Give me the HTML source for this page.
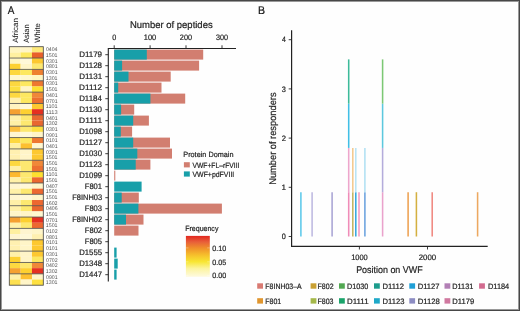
<!DOCTYPE html>
<html><head><meta charset="utf-8"><style>
html,body{margin:0;padding:0;background:#fff;}
body{width:520px;height:311px;overflow:hidden;}
svg{display:block;}
svg{will-change:transform;}
text{stroke:#222;stroke-width:0.2px;}
text.sm{stroke:none;}
text.thin{stroke-width:0.06px;}
text{text-rendering:geometricPrecision;}
</style></head><body>
<svg width="520" height="311" viewBox="0 0 520 311" font-family='"Liberation Sans", sans-serif'>
<rect x="0" y="0" width="520" height="311" fill="#fefefe"/>
<rect x="0.5" y="0.5" width="519" height="310" fill="none" stroke="#474747" stroke-width="1"/>
<rect x="1.5" y="1.5" width="517" height="308" fill="none" stroke="#999" stroke-width="1"/>
<text x="7.78" y="14.10" font-size="11.2" textLength="6.64" lengthAdjust="spacingAndGlyphs" fill="#111">A</text>
<text x="258.04" y="14.10" font-size="11" textLength="7.02" lengthAdjust="spacingAndGlyphs" fill="#111">B</text>
<text class="thin" transform="translate(18.20,42.82) rotate(-90)" x="0" y="0" font-size="7.7" textLength="24.63" lengthAdjust="spacingAndGlyphs" fill="#222">African</text>
<text class="thin" transform="translate(28.50,42.81) rotate(-90)" x="0" y="0" font-size="7.7" textLength="18.29" lengthAdjust="spacingAndGlyphs" fill="#222">Asian</text>
<text class="thin" transform="translate(39.90,42.84) rotate(-90)" x="0" y="0" font-size="7.7" textLength="19.68" lengthAdjust="spacingAndGlyphs" fill="#222">White</text>
<rect x="9.30" y="46.70" width="11.38" height="5.73" fill="#fff5c0"/>
<rect x="20.63" y="46.70" width="11.38" height="5.73" fill="#fff5c8"/>
<rect x="31.97" y="46.70" width="11.38" height="5.73" fill="#fde878"/>
<rect x="9.30" y="52.38" width="11.38" height="5.73" fill="#fff0a0"/>
<rect x="20.63" y="52.38" width="11.38" height="5.73" fill="#fde860"/>
<rect x="31.97" y="52.38" width="11.38" height="5.73" fill="#e8602a"/>
<rect x="9.30" y="58.06" width="11.38" height="5.73" fill="#fff5c0"/>
<rect x="20.63" y="58.06" width="11.38" height="5.73" fill="#fff8d8"/>
<rect x="31.97" y="58.06" width="11.38" height="5.73" fill="#fdc830"/>
<rect x="9.30" y="63.74" width="11.38" height="5.73" fill="#fdd030"/>
<rect x="20.63" y="63.74" width="11.38" height="5.73" fill="#fff5c8"/>
<rect x="31.97" y="63.74" width="11.38" height="5.73" fill="#fde870"/>
<rect x="9.30" y="69.41" width="11.38" height="5.73" fill="#fdd840"/>
<rect x="20.63" y="69.41" width="11.38" height="5.73" fill="#fde860"/>
<rect x="31.97" y="69.41" width="11.38" height="5.73" fill="#ee8030"/>
<rect x="9.30" y="75.09" width="11.38" height="5.73" fill="#fff8d0"/>
<rect x="20.63" y="75.09" width="11.38" height="5.73" fill="#fff8d0"/>
<rect x="31.97" y="75.09" width="11.38" height="5.73" fill="#fff5c0"/>
<rect x="9.30" y="80.77" width="11.38" height="5.73" fill="#fdd840"/>
<rect x="20.63" y="80.77" width="11.38" height="5.73" fill="#fde860"/>
<rect x="31.97" y="80.77" width="11.38" height="5.73" fill="#ee7830"/>
<rect x="9.30" y="86.45" width="11.38" height="5.73" fill="#fde040"/>
<rect x="20.63" y="86.45" width="11.38" height="5.73" fill="#fff5c8"/>
<rect x="31.97" y="86.45" width="11.38" height="5.73" fill="#fde030"/>
<rect x="9.30" y="92.13" width="11.38" height="5.73" fill="#fdd840"/>
<rect x="20.63" y="92.13" width="11.38" height="5.73" fill="#fde860"/>
<rect x="31.97" y="92.13" width="11.38" height="5.73" fill="#f08838"/>
<rect x="9.30" y="97.81" width="11.38" height="5.73" fill="#fff0b0"/>
<rect x="20.63" y="97.81" width="11.38" height="5.73" fill="#fde860"/>
<rect x="31.97" y="97.81" width="11.38" height="5.73" fill="#ec7030"/>
<rect x="9.30" y="103.49" width="11.38" height="5.73" fill="#fff3c0"/>
<rect x="20.63" y="103.49" width="11.38" height="5.73" fill="#fff8d8"/>
<rect x="31.97" y="103.49" width="11.38" height="5.73" fill="#fdc830"/>
<rect x="9.30" y="109.16" width="11.38" height="5.73" fill="#f5a030"/>
<rect x="20.63" y="109.16" width="11.38" height="5.73" fill="#fdd030"/>
<rect x="31.97" y="109.16" width="11.38" height="5.73" fill="#e53020"/>
<rect x="9.30" y="114.84" width="11.38" height="5.73" fill="#fff0a8"/>
<rect x="20.63" y="114.84" width="11.38" height="5.73" fill="#fde870"/>
<rect x="31.97" y="114.84" width="11.38" height="5.73" fill="#e86830"/>
<rect x="9.30" y="120.52" width="11.38" height="5.73" fill="#fff0a8"/>
<rect x="20.63" y="120.52" width="11.38" height="5.73" fill="#fde870"/>
<rect x="31.97" y="120.52" width="11.38" height="5.73" fill="#e86830"/>
<rect x="9.30" y="126.20" width="11.38" height="5.73" fill="#fdc040"/>
<rect x="20.63" y="126.20" width="11.38" height="5.73" fill="#fde870"/>
<rect x="31.97" y="126.20" width="11.38" height="5.73" fill="#fde040"/>
<rect x="9.30" y="131.88" width="11.38" height="5.73" fill="#fff5d0"/>
<rect x="20.63" y="131.88" width="11.38" height="5.73" fill="#fff8d8"/>
<rect x="31.97" y="131.88" width="11.38" height="5.73" fill="#fff5c8"/>
<rect x="9.30" y="137.56" width="11.38" height="5.73" fill="#fdd840"/>
<rect x="20.63" y="137.56" width="11.38" height="5.73" fill="#fde860"/>
<rect x="31.97" y="137.56" width="11.38" height="5.73" fill="#ee7830"/>
<rect x="9.30" y="143.24" width="11.38" height="5.73" fill="#fff0a0"/>
<rect x="20.63" y="143.24" width="11.38" height="5.73" fill="#fdc030"/>
<rect x="31.97" y="143.24" width="11.38" height="5.73" fill="#fff8d0"/>
<rect x="9.30" y="148.91" width="11.38" height="5.73" fill="#fff0b0"/>
<rect x="20.63" y="148.91" width="11.38" height="5.73" fill="#fff5c8"/>
<rect x="31.97" y="148.91" width="11.38" height="5.73" fill="#fdc830"/>
<rect x="9.30" y="154.59" width="11.38" height="5.73" fill="#fff0b0"/>
<rect x="20.63" y="154.59" width="11.38" height="5.73" fill="#fff5c8"/>
<rect x="31.97" y="154.59" width="11.38" height="5.73" fill="#fdc830"/>
<rect x="9.30" y="160.27" width="11.38" height="5.73" fill="#fdd840"/>
<rect x="20.63" y="160.27" width="11.38" height="5.73" fill="#fde870"/>
<rect x="31.97" y="160.27" width="11.38" height="5.73" fill="#f08838"/>
<rect x="9.30" y="165.95" width="11.38" height="5.73" fill="#fff0a8"/>
<rect x="20.63" y="165.95" width="11.38" height="5.73" fill="#fde870"/>
<rect x="31.97" y="165.95" width="11.38" height="5.73" fill="#ec7030"/>
<rect x="9.30" y="171.63" width="11.38" height="5.73" fill="#fdb830"/>
<rect x="20.63" y="171.63" width="11.38" height="5.73" fill="#fde870"/>
<rect x="31.97" y="171.63" width="11.38" height="5.73" fill="#fde030"/>
<rect x="9.30" y="177.31" width="11.38" height="5.73" fill="#fff0a8"/>
<rect x="20.63" y="177.31" width="11.38" height="5.73" fill="#fde870"/>
<rect x="31.97" y="177.31" width="11.38" height="5.73" fill="#ec6830"/>
<rect x="9.30" y="182.99" width="11.38" height="5.73" fill="#fff5d0"/>
<rect x="20.63" y="182.99" width="11.38" height="5.73" fill="#fff8d8"/>
<rect x="31.97" y="182.99" width="11.38" height="5.73" fill="#fff5c8"/>
<rect x="9.30" y="188.66" width="11.38" height="5.73" fill="#fff0a8"/>
<rect x="20.63" y="188.66" width="11.38" height="5.73" fill="#fde870"/>
<rect x="31.97" y="188.66" width="11.38" height="5.73" fill="#ec6830"/>
<rect x="9.30" y="194.34" width="11.38" height="5.73" fill="#fff5d0"/>
<rect x="20.63" y="194.34" width="11.38" height="5.73" fill="#fff8d8"/>
<rect x="31.97" y="194.34" width="11.38" height="5.73" fill="#fff5c8"/>
<rect x="9.30" y="200.02" width="11.38" height="5.73" fill="#fff0a8"/>
<rect x="20.63" y="200.02" width="11.38" height="5.73" fill="#fde870"/>
<rect x="31.97" y="200.02" width="11.38" height="5.73" fill="#ec6830"/>
<rect x="9.30" y="205.70" width="11.38" height="5.73" fill="#fff0a8"/>
<rect x="20.63" y="205.70" width="11.38" height="5.73" fill="#fde870"/>
<rect x="31.97" y="205.70" width="11.38" height="5.73" fill="#e86830"/>
<rect x="9.30" y="211.38" width="11.38" height="5.73" fill="#fff5c8"/>
<rect x="20.63" y="211.38" width="11.38" height="5.73" fill="#fff5c8"/>
<rect x="31.97" y="211.38" width="11.38" height="5.73" fill="#fff8d0"/>
<rect x="9.30" y="217.06" width="11.38" height="5.73" fill="#f5a030"/>
<rect x="20.63" y="217.06" width="11.38" height="5.73" fill="#fdd030"/>
<rect x="31.97" y="217.06" width="11.38" height="5.73" fill="#e53020"/>
<rect x="9.30" y="222.74" width="11.38" height="5.73" fill="#fff0a8"/>
<rect x="20.63" y="222.74" width="11.38" height="5.73" fill="#fde870"/>
<rect x="31.97" y="222.74" width="11.38" height="5.73" fill="#ec6830"/>
<rect x="9.30" y="228.41" width="11.38" height="5.73" fill="#fff0a0"/>
<rect x="20.63" y="228.41" width="11.38" height="5.73" fill="#fff5d0"/>
<rect x="31.97" y="228.41" width="11.38" height="5.73" fill="#fff5c8"/>
<rect x="9.30" y="234.09" width="11.38" height="5.73" fill="#fff5d0"/>
<rect x="20.63" y="234.09" width="11.38" height="5.73" fill="#fff8d8"/>
<rect x="31.97" y="234.09" width="11.38" height="5.73" fill="#fff0b0"/>
<rect x="9.30" y="239.77" width="11.38" height="5.73" fill="#fff0b0"/>
<rect x="20.63" y="239.77" width="11.38" height="5.73" fill="#fff5c8"/>
<rect x="31.97" y="239.77" width="11.38" height="5.73" fill="#fdc830"/>
<rect x="9.30" y="245.45" width="11.38" height="5.73" fill="#fff0b0"/>
<rect x="20.63" y="245.45" width="11.38" height="5.73" fill="#fff5c8"/>
<rect x="31.97" y="245.45" width="11.38" height="5.73" fill="#fdc830"/>
<rect x="9.30" y="251.13" width="11.38" height="5.73" fill="#fff0a8"/>
<rect x="20.63" y="251.13" width="11.38" height="5.73" fill="#fff5c8"/>
<rect x="31.97" y="251.13" width="11.38" height="5.73" fill="#fdc830"/>
<rect x="9.30" y="256.81" width="11.38" height="5.73" fill="#fdd030"/>
<rect x="20.63" y="256.81" width="11.38" height="5.73" fill="#fff5c8"/>
<rect x="31.97" y="256.81" width="11.38" height="5.73" fill="#fde860"/>
<rect x="9.30" y="262.49" width="11.38" height="5.73" fill="#fdd840"/>
<rect x="20.63" y="262.49" width="11.38" height="5.73" fill="#fde870"/>
<rect x="31.97" y="262.49" width="11.38" height="5.73" fill="#f08838"/>
<rect x="9.30" y="268.16" width="11.38" height="5.73" fill="#f5a030"/>
<rect x="20.63" y="268.16" width="11.38" height="5.73" fill="#fdd030"/>
<rect x="31.97" y="268.16" width="11.38" height="5.73" fill="#e53020"/>
<rect x="9.30" y="273.84" width="11.38" height="5.73" fill="#fff0a8"/>
<rect x="20.63" y="273.84" width="11.38" height="5.73" fill="#fdc030"/>
<rect x="31.97" y="273.84" width="11.38" height="5.73" fill="#fff5c8"/>
<rect x="9.30" y="279.52" width="11.38" height="5.73" fill="#fde050"/>
<rect x="20.63" y="279.52" width="11.38" height="5.73" fill="#fff5c8"/>
<rect x="31.97" y="279.52" width="11.38" height="5.73" fill="#fde040"/>
<line x1="9.3" x2="43.3" y1="58.06" y2="58.06" stroke="#4d4d4d" stroke-width="0.8"/>
<line x1="9.3" x2="43.3" y1="69.41" y2="69.41" stroke="#4d4d4d" stroke-width="0.8"/>
<line x1="9.3" x2="43.3" y1="80.77" y2="80.77" stroke="#4d4d4d" stroke-width="0.8"/>
<line x1="9.3" x2="43.3" y1="92.13" y2="92.13" stroke="#4d4d4d" stroke-width="0.8"/>
<line x1="9.3" x2="43.3" y1="103.49" y2="103.49" stroke="#4d4d4d" stroke-width="0.8"/>
<line x1="9.3" x2="43.3" y1="114.84" y2="114.84" stroke="#4d4d4d" stroke-width="0.8"/>
<line x1="9.3" x2="43.3" y1="126.20" y2="126.20" stroke="#4d4d4d" stroke-width="0.8"/>
<line x1="9.3" x2="43.3" y1="137.56" y2="137.56" stroke="#4d4d4d" stroke-width="0.8"/>
<line x1="9.3" x2="43.3" y1="148.91" y2="148.91" stroke="#4d4d4d" stroke-width="0.8"/>
<line x1="9.3" x2="43.3" y1="160.27" y2="160.27" stroke="#4d4d4d" stroke-width="0.8"/>
<line x1="9.3" x2="43.3" y1="171.63" y2="171.63" stroke="#4d4d4d" stroke-width="0.8"/>
<line x1="9.3" x2="43.3" y1="182.99" y2="182.99" stroke="#4d4d4d" stroke-width="0.8"/>
<line x1="9.3" x2="43.3" y1="194.34" y2="194.34" stroke="#4d4d4d" stroke-width="0.8"/>
<line x1="9.3" x2="43.3" y1="205.70" y2="205.70" stroke="#4d4d4d" stroke-width="0.8"/>
<line x1="9.3" x2="43.3" y1="217.06" y2="217.06" stroke="#4d4d4d" stroke-width="0.8"/>
<line x1="9.3" x2="43.3" y1="228.41" y2="228.41" stroke="#4d4d4d" stroke-width="0.8"/>
<line x1="9.3" x2="43.3" y1="239.77" y2="239.77" stroke="#4d4d4d" stroke-width="0.8"/>
<line x1="9.3" x2="43.3" y1="251.13" y2="251.13" stroke="#4d4d4d" stroke-width="0.8"/>
<line x1="9.3" x2="43.3" y1="262.49" y2="262.49" stroke="#4d4d4d" stroke-width="0.8"/>
<line x1="9.3" x2="43.3" y1="273.84" y2="273.84" stroke="#4d4d4d" stroke-width="0.8"/>
<rect x="9.3" y="46.7" width="34.00" height="238.50" fill="none" stroke="#4a4a4a" stroke-width="0.85"/>
<text x="46.00" y="51.39" font-size="5.3" textLength="11.45" lengthAdjust="spacingAndGlyphs" fill="#555" class="sm">0404</text>
<text x="45.80" y="57.07" font-size="5.3" textLength="11.76" lengthAdjust="spacingAndGlyphs" fill="#555" class="sm">1501</text>
<text x="46.00" y="62.75" font-size="5.3" textLength="11.56" lengthAdjust="spacingAndGlyphs" fill="#555" class="sm">0301</text>
<text x="46.00" y="68.42" font-size="5.3" textLength="11.56" lengthAdjust="spacingAndGlyphs" fill="#555" class="sm">0801</text>
<text x="46.00" y="74.10" font-size="5.3" textLength="11.56" lengthAdjust="spacingAndGlyphs" fill="#555" class="sm">0301</text>
<text x="45.80" y="79.78" font-size="5.3" textLength="11.76" lengthAdjust="spacingAndGlyphs" fill="#555" class="sm">1301</text>
<text x="46.00" y="85.46" font-size="5.3" textLength="11.56" lengthAdjust="spacingAndGlyphs" fill="#555" class="sm">0301</text>
<text x="45.80" y="91.14" font-size="5.3" textLength="11.76" lengthAdjust="spacingAndGlyphs" fill="#555" class="sm">1501</text>
<text x="46.00" y="96.82" font-size="5.3" textLength="11.56" lengthAdjust="spacingAndGlyphs" fill="#555" class="sm">0401</text>
<text x="46.00" y="102.50" font-size="5.3" textLength="11.56" lengthAdjust="spacingAndGlyphs" fill="#555" class="sm">0701</text>
<text x="45.78" y="108.17" font-size="5.3" textLength="11.79" lengthAdjust="spacingAndGlyphs" fill="#555" class="sm">1101</text>
<text x="45.77" y="113.85" font-size="5.3" textLength="11.78" lengthAdjust="spacingAndGlyphs" fill="#555" class="sm">1113</text>
<text x="46.00" y="119.53" font-size="5.3" textLength="11.56" lengthAdjust="spacingAndGlyphs" fill="#555" class="sm">0401</text>
<text x="45.80" y="125.21" font-size="5.3" textLength="11.77" lengthAdjust="spacingAndGlyphs" fill="#555" class="sm">1302</text>
<text x="46.00" y="130.89" font-size="5.3" textLength="11.56" lengthAdjust="spacingAndGlyphs" fill="#555" class="sm">0301</text>
<text x="46.00" y="136.57" font-size="5.3" textLength="11.56" lengthAdjust="spacingAndGlyphs" fill="#555" class="sm">0901</text>
<text x="46.00" y="142.25" font-size="5.3" textLength="11.56" lengthAdjust="spacingAndGlyphs" fill="#555" class="sm">0101</text>
<text x="46.00" y="147.92" font-size="5.3" textLength="11.56" lengthAdjust="spacingAndGlyphs" fill="#555" class="sm">0401</text>
<text x="46.00" y="153.60" font-size="5.3" textLength="11.56" lengthAdjust="spacingAndGlyphs" fill="#555" class="sm">0301</text>
<text x="45.80" y="159.28" font-size="5.3" textLength="11.76" lengthAdjust="spacingAndGlyphs" fill="#555" class="sm">1501</text>
<text x="45.80" y="164.96" font-size="5.3" textLength="11.76" lengthAdjust="spacingAndGlyphs" fill="#555" class="sm">1501</text>
<text x="45.80" y="170.64" font-size="5.3" textLength="11.76" lengthAdjust="spacingAndGlyphs" fill="#555" class="sm">1501</text>
<text x="45.78" y="176.32" font-size="5.3" textLength="11.79" lengthAdjust="spacingAndGlyphs" fill="#555" class="sm">1101</text>
<text x="45.80" y="182.00" font-size="5.3" textLength="11.76" lengthAdjust="spacingAndGlyphs" fill="#555" class="sm">1501</text>
<text x="46.00" y="187.67" font-size="5.3" textLength="11.57" lengthAdjust="spacingAndGlyphs" fill="#555" class="sm">0407</text>
<text x="45.80" y="193.35" font-size="5.3" textLength="11.76" lengthAdjust="spacingAndGlyphs" fill="#555" class="sm">1501</text>
<text x="45.80" y="199.03" font-size="5.3" textLength="11.76" lengthAdjust="spacingAndGlyphs" fill="#555" class="sm">1501</text>
<text x="45.80" y="204.71" font-size="5.3" textLength="11.77" lengthAdjust="spacingAndGlyphs" fill="#555" class="sm">1602</text>
<text x="46.00" y="210.39" font-size="5.3" textLength="11.53" lengthAdjust="spacingAndGlyphs" fill="#555" class="sm">0406</text>
<text x="45.80" y="216.07" font-size="5.3" textLength="11.76" lengthAdjust="spacingAndGlyphs" fill="#555" class="sm">1501</text>
<text x="46.00" y="221.75" font-size="5.3" textLength="11.56" lengthAdjust="spacingAndGlyphs" fill="#555" class="sm">0701</text>
<text x="45.80" y="227.42" font-size="5.3" textLength="11.76" lengthAdjust="spacingAndGlyphs" fill="#555" class="sm">1501</text>
<text x="46.00" y="233.10" font-size="5.3" textLength="11.57" lengthAdjust="spacingAndGlyphs" fill="#555" class="sm">0102</text>
<text x="46.00" y="238.78" font-size="5.3" textLength="11.56" lengthAdjust="spacingAndGlyphs" fill="#555" class="sm">0801</text>
<text x="46.00" y="244.46" font-size="5.3" textLength="11.56" lengthAdjust="spacingAndGlyphs" fill="#555" class="sm">0101</text>
<text x="46.00" y="250.14" font-size="5.3" textLength="11.56" lengthAdjust="spacingAndGlyphs" fill="#555" class="sm">0101</text>
<text x="46.00" y="255.82" font-size="5.3" textLength="11.56" lengthAdjust="spacingAndGlyphs" fill="#555" class="sm">0301</text>
<text x="46.00" y="261.50" font-size="5.3" textLength="11.57" lengthAdjust="spacingAndGlyphs" fill="#555" class="sm">0702</text>
<text x="46.00" y="267.18" font-size="5.3" textLength="11.57" lengthAdjust="spacingAndGlyphs" fill="#555" class="sm">0402</text>
<text x="45.80" y="272.85" font-size="5.3" textLength="11.77" lengthAdjust="spacingAndGlyphs" fill="#555" class="sm">1302</text>
<text x="46.00" y="278.53" font-size="5.3" textLength="11.56" lengthAdjust="spacingAndGlyphs" fill="#555" class="sm">0901</text>
<text x="45.80" y="284.21" font-size="5.3" textLength="11.76" lengthAdjust="spacingAndGlyphs" fill="#555" class="sm">1301</text>
<text x="130.02" y="28.00" font-size="9.7" textLength="82.62" lengthAdjust="spacingAndGlyphs" fill="#222">Number of peptides</text>
<text x="112.19" y="40.10" font-size="7.9" textLength="4.02" lengthAdjust="spacingAndGlyphs" fill="#222">0</text>
<line x1="114.2" x2="114.2" y1="45.3" y2="48.5" stroke="#333" stroke-width="0.95"/>
<text x="143.76" y="40.10" font-size="7.9" textLength="12.42" lengthAdjust="spacingAndGlyphs" fill="#222">100</text>
<line x1="150.1" x2="150.1" y1="45.3" y2="48.5" stroke="#333" stroke-width="0.95"/>
<text x="179.85" y="40.10" font-size="7.9" textLength="12.21" lengthAdjust="spacingAndGlyphs" fill="#222">200</text>
<line x1="186.0" x2="186.0" y1="45.3" y2="48.5" stroke="#333" stroke-width="0.95"/>
<text x="215.94" y="40.10" font-size="7.9" textLength="12.12" lengthAdjust="spacingAndGlyphs" fill="#222">300</text>
<line x1="222.0" x2="222.0" y1="45.3" y2="48.5" stroke="#333" stroke-width="0.95"/>
<rect x="114.2" y="49.60" width="89.00" height="10" fill="#d27e70"/>
<rect x="114.2" y="49.60" width="32.60" height="10" fill="#189fa9"/>
<line x1="105.3" x2="108.3" y1="54.70" y2="54.70" stroke="#333" stroke-width="0.95"/>
<text x="79.14" y="57.45" font-size="8.0" textLength="22.94" lengthAdjust="spacingAndGlyphs" fill="#222">D1179</text>
<rect x="114.2" y="60.60" width="84.90" height="10" fill="#d27e70"/>
<rect x="114.2" y="60.60" width="7.90" height="10" fill="#189fa9"/>
<line x1="105.3" x2="108.3" y1="65.70" y2="65.70" stroke="#333" stroke-width="0.95"/>
<text x="79.14" y="68.45" font-size="8.0" textLength="22.91" lengthAdjust="spacingAndGlyphs" fill="#222">D1128</text>
<rect x="114.2" y="71.60" width="56.50" height="10" fill="#d27e70"/>
<rect x="114.2" y="71.60" width="14.30" height="10" fill="#189fa9"/>
<line x1="105.3" x2="108.3" y1="76.70" y2="76.70" stroke="#333" stroke-width="0.95"/>
<text x="79.14" y="79.45" font-size="8.0" textLength="22.96" lengthAdjust="spacingAndGlyphs" fill="#222">D1131</text>
<rect x="114.2" y="82.60" width="47.30" height="10" fill="#d27e70"/>
<rect x="114.2" y="82.60" width="4.00" height="10" fill="#189fa9"/>
<line x1="105.3" x2="108.3" y1="87.70" y2="87.70" stroke="#333" stroke-width="0.95"/>
<text x="79.12" y="90.45" font-size="8.0" textLength="22.99" lengthAdjust="spacingAndGlyphs" fill="#222">D1112</text>
<rect x="114.2" y="93.60" width="71.00" height="10" fill="#d27e70"/>
<rect x="114.2" y="93.60" width="36.20" height="10" fill="#189fa9"/>
<line x1="105.3" x2="108.3" y1="98.70" y2="98.70" stroke="#333" stroke-width="0.95"/>
<text x="79.14" y="101.45" font-size="8.0" textLength="22.79" lengthAdjust="spacingAndGlyphs" fill="#222">D1184</text>
<rect x="114.2" y="104.60" width="20.00" height="10" fill="#d27e70"/>
<rect x="114.2" y="104.60" width="6.90" height="10" fill="#189fa9"/>
<line x1="105.3" x2="108.3" y1="109.70" y2="109.70" stroke="#333" stroke-width="0.95"/>
<text x="79.14" y="112.45" font-size="8.0" textLength="22.88" lengthAdjust="spacingAndGlyphs" fill="#222">D1130</text>
<rect x="114.2" y="115.60" width="34.70" height="10" fill="#d27e70"/>
<rect x="114.2" y="115.60" width="19.00" height="10" fill="#189fa9"/>
<line x1="105.3" x2="108.3" y1="120.70" y2="120.70" stroke="#333" stroke-width="0.95"/>
<text x="79.10" y="123.45" font-size="8.0" textLength="23.02" lengthAdjust="spacingAndGlyphs" fill="#222">D1111</text>
<rect x="114.2" y="126.60" width="17.90" height="10" fill="#d27e70"/>
<rect x="114.2" y="126.60" width="6.60" height="10" fill="#189fa9"/>
<line x1="105.3" x2="108.3" y1="131.70" y2="131.70" stroke="#333" stroke-width="0.95"/>
<text x="79.16" y="134.45" font-size="8.0" textLength="22.88" lengthAdjust="spacingAndGlyphs" fill="#222">D1098</text>
<rect x="114.2" y="137.60" width="55.80" height="10" fill="#d27e70"/>
<rect x="114.2" y="137.60" width="19.00" height="10" fill="#189fa9"/>
<line x1="105.3" x2="108.3" y1="142.70" y2="142.70" stroke="#333" stroke-width="0.95"/>
<text x="79.14" y="145.45" font-size="8.0" textLength="22.97" lengthAdjust="spacingAndGlyphs" fill="#222">D1127</text>
<rect x="114.2" y="148.60" width="57.80" height="10" fill="#d27e70"/>
<rect x="114.2" y="148.60" width="23.10" height="10" fill="#189fa9"/>
<line x1="105.3" x2="108.3" y1="153.70" y2="153.70" stroke="#333" stroke-width="0.95"/>
<text x="79.16" y="156.45" font-size="8.0" textLength="22.84" lengthAdjust="spacingAndGlyphs" fill="#222">D1030</text>
<rect x="114.2" y="159.60" width="36.20" height="10" fill="#d27e70"/>
<rect x="114.2" y="159.60" width="21.50" height="10" fill="#189fa9"/>
<line x1="105.3" x2="108.3" y1="164.70" y2="164.70" stroke="#333" stroke-width="0.95"/>
<text x="79.14" y="167.45" font-size="8.0" textLength="22.92" lengthAdjust="spacingAndGlyphs" fill="#222">D1123</text>
<rect x="114.2" y="170.60" width="1.10" height="10" fill="#d27e70"/>
<line x1="105.3" x2="108.3" y1="175.70" y2="175.70" stroke="#333" stroke-width="0.95"/>
<text x="79.16" y="178.45" font-size="8.0" textLength="22.91" lengthAdjust="spacingAndGlyphs" fill="#222">D1099</text>
<rect x="114.2" y="181.60" width="27.40" height="10" fill="#189fa9"/>
<line x1="105.3" x2="108.3" y1="186.70" y2="186.70" stroke="#333" stroke-width="0.95"/>
<text x="84.75" y="189.45" font-size="8.0" textLength="17.33" lengthAdjust="spacingAndGlyphs" fill="#222">F801</text>
<rect x="114.2" y="192.60" width="24.60" height="10" fill="#d27e70"/>
<rect x="114.2" y="192.60" width="7.50" height="10" fill="#189fa9"/>
<line x1="105.3" x2="108.3" y1="197.70" y2="197.70" stroke="#333" stroke-width="0.95"/>
<text x="72.28" y="200.45" font-size="8.0" textLength="29.76" lengthAdjust="spacingAndGlyphs" fill="#222">F8INH03</text>
<rect x="114.2" y="203.60" width="107.70" height="10" fill="#d27e70"/>
<rect x="114.2" y="203.60" width="24.20" height="10" fill="#189fa9"/>
<line x1="105.3" x2="108.3" y1="208.70" y2="208.70" stroke="#333" stroke-width="0.95"/>
<text x="84.75" y="211.45" font-size="8.0" textLength="17.29" lengthAdjust="spacingAndGlyphs" fill="#222">F803</text>
<rect x="114.2" y="214.60" width="29.30" height="10" fill="#d27e70"/>
<rect x="114.2" y="214.60" width="11.80" height="10" fill="#189fa9"/>
<line x1="105.3" x2="108.3" y1="219.70" y2="219.70" stroke="#333" stroke-width="0.95"/>
<text x="72.27" y="222.45" font-size="8.0" textLength="29.80" lengthAdjust="spacingAndGlyphs" fill="#222">F8INH02</text>
<rect x="114.2" y="225.60" width="24.30" height="10" fill="#d27e70"/>
<line x1="105.3" x2="108.3" y1="230.70" y2="230.70" stroke="#333" stroke-width="0.95"/>
<text x="84.75" y="233.45" font-size="8.0" textLength="17.34" lengthAdjust="spacingAndGlyphs" fill="#222">F802</text>
<line x1="105.3" x2="108.3" y1="241.70" y2="241.70" stroke="#333" stroke-width="0.95"/>
<text x="84.75" y="244.45" font-size="8.0" textLength="17.27" lengthAdjust="spacingAndGlyphs" fill="#222">F805</text>
<rect x="114.2" y="247.60" width="2.40" height="10" fill="#189fa9"/>
<line x1="105.3" x2="108.3" y1="252.70" y2="252.70" stroke="#333" stroke-width="0.95"/>
<text x="79.16" y="255.45" font-size="8.0" textLength="22.87" lengthAdjust="spacingAndGlyphs" fill="#222">D1555</text>
<rect x="114.2" y="258.60" width="3.50" height="10" fill="#189fa9"/>
<line x1="105.3" x2="108.3" y1="263.70" y2="263.70" stroke="#333" stroke-width="0.95"/>
<text x="79.16" y="266.45" font-size="8.0" textLength="22.88" lengthAdjust="spacingAndGlyphs" fill="#222">D1348</text>
<rect x="114.2" y="269.60" width="2.40" height="10" fill="#189fa9"/>
<line x1="105.3" x2="108.3" y1="274.70" y2="274.70" stroke="#333" stroke-width="0.95"/>
<text x="79.15" y="277.45" font-size="8.0" textLength="22.93" lengthAdjust="spacingAndGlyphs" fill="#222">D1447</text>
<path d="M236 48.5 H108.3 V281.4" fill="none" stroke="#222" stroke-width="1.1"/>
<text x="183.30" y="157.30" font-size="7.6" textLength="50.17" lengthAdjust="spacingAndGlyphs" fill="#222">Protein Domain</text>
<rect x="183.9" y="162.2" width="5.9" height="5.2" fill="#d27e70"/>
<rect x="183.9" y="171.4" width="5.9" height="5.2" fill="#189fa9"/>
<text x="192.47" y="167.50" font-size="7.6" textLength="46.95" lengthAdjust="spacingAndGlyphs" fill="#222">VWF+FL&#8211;rFVIII</text>
<text x="192.47" y="176.70" font-size="7.6" textLength="41.77" lengthAdjust="spacingAndGlyphs" fill="#222">VWF+pdFVIII</text>
<text x="185.22" y="230.80" font-size="7.6" textLength="33.19" lengthAdjust="spacingAndGlyphs" fill="#222">Frequency</text>
<defs><linearGradient id="cb" x1="0" y1="0" x2="0" y2="1"><stop offset="0" stop-color="#e2261f"/><stop offset="0.15" stop-color="#e8603a"/><stop offset="0.3" stop-color="#f0902a"/><stop offset="0.47" stop-color="#f6c02c"/><stop offset="0.63" stop-color="#f8e632"/><stop offset="0.8" stop-color="#fcf4a0"/><stop offset="1" stop-color="#fefae0"/></linearGradient></defs>
<rect x="185.9" y="235.9" width="23.9" height="40.9" fill="url(#cb)"/>
<text x="212.32" y="250.60" font-size="7.6" textLength="13.96" lengthAdjust="spacingAndGlyphs" fill="#222">0.10</text>
<line x1="185.9" x2="188.5" y1="247.90" y2="247.90" stroke="#fff" stroke-opacity="0.6" stroke-width="0.5"/>
<line x1="207.2" x2="209.8" y1="247.90" y2="247.90" stroke="#fff" stroke-opacity="0.6" stroke-width="0.5"/>
<text x="212.32" y="264.50" font-size="7.6" textLength="13.98" lengthAdjust="spacingAndGlyphs" fill="#222">0.05</text>
<line x1="185.9" x2="188.5" y1="261.80" y2="261.80" stroke="#fff" stroke-opacity="0.6" stroke-width="0.5"/>
<line x1="207.2" x2="209.8" y1="261.80" y2="261.80" stroke="#fff" stroke-opacity="0.6" stroke-width="0.5"/>
<text x="212.32" y="278.30" font-size="7.6" textLength="13.96" lengthAdjust="spacingAndGlyphs" fill="#222">0.00</text>
<line x1="185.9" x2="188.5" y1="275.60" y2="275.60" stroke="#fff" stroke-opacity="0.6" stroke-width="0.5"/>
<line x1="207.2" x2="209.8" y1="275.60" y2="275.60" stroke="#fff" stroke-opacity="0.6" stroke-width="0.5"/>
<text transform="translate(275.60,184.76) rotate(-90)" x="0" y="0" font-size="9.7" textLength="92.30" lengthAdjust="spacingAndGlyphs" fill="#222">Number of responders</text>
<text x="281.81" y="239.10" font-size="7.8" textLength="4.07" lengthAdjust="spacingAndGlyphs" fill="#222">0</text>
<line x1="288.7" x2="291.6" y1="236.50" y2="236.50" stroke="#333" stroke-width="0.95"/>
<text x="281.48" y="189.90" font-size="7.8" textLength="4.52" lengthAdjust="spacingAndGlyphs" fill="#222">1</text>
<line x1="288.7" x2="291.6" y1="187.30" y2="187.30" stroke="#333" stroke-width="0.95"/>
<text x="281.71" y="140.70" font-size="7.8" textLength="4.27" lengthAdjust="spacingAndGlyphs" fill="#222">2</text>
<line x1="288.7" x2="291.6" y1="138.10" y2="138.10" stroke="#333" stroke-width="0.95"/>
<text x="281.82" y="91.50" font-size="7.8" textLength="4.11" lengthAdjust="spacingAndGlyphs" fill="#222">3</text>
<line x1="288.7" x2="291.6" y1="88.90" y2="88.90" stroke="#333" stroke-width="0.95"/>
<text x="281.94" y="42.30" font-size="7.8" textLength="3.86" lengthAdjust="spacingAndGlyphs" fill="#222">4</text>
<line x1="288.7" x2="291.6" y1="39.70" y2="39.70" stroke="#333" stroke-width="0.95"/>
<text x="351.13" y="259.60" font-size="7.9" textLength="16.67" lengthAdjust="spacingAndGlyphs" fill="#222">1000</text>
<line x1="359.4" x2="359.4" y1="246.4" y2="249.5" stroke="#333" stroke-width="0.95"/>
<text x="418.71" y="259.60" font-size="7.9" textLength="17.51" lengthAdjust="spacingAndGlyphs" fill="#222">2000</text>
<line x1="427.5" x2="427.5" y1="246.4" y2="249.5" stroke="#333" stroke-width="0.95"/>
<text x="356.17" y="272.60" font-size="9.7" textLength="66.49" lengthAdjust="spacingAndGlyphs" fill="#222">Position on VWF</text>
<line x1="300.9" x2="300.9" y1="236.50" y2="192.22" stroke="#5cc8ea" stroke-width="1.55"/>
<line x1="312.1" x2="312.1" y1="236.50" y2="192.22" stroke="#bdb8e0" stroke-width="1.55"/>
<line x1="332.1" x2="332.1" y1="236.50" y2="192.22" stroke="#a8a4d4" stroke-width="1.55"/>
<line x1="348.7" x2="348.7" y1="236.50" y2="192.22" stroke="#f08cb8" stroke-width="1.55"/>
<line x1="348.7" x2="348.7" y1="192.22" y2="147.94" stroke="#eea6cc" stroke-width="1.55"/>
<line x1="348.7" x2="348.7" y1="147.94" y2="103.66" stroke="#40bfe6" stroke-width="1.55"/>
<line x1="348.7" x2="348.7" y1="103.66" y2="59.38" stroke="#3dbb9a" stroke-width="1.55"/>
<line x1="352.8" x2="352.8" y1="236.50" y2="192.22" stroke="#c4b460" stroke-width="1.55"/>
<line x1="352.8" x2="352.8" y1="192.22" y2="147.94" stroke="#f3c98e" stroke-width="1.55"/>
<line x1="355.8" x2="355.8" y1="236.50" y2="192.22" stroke="#36a8e0" stroke-width="1.55"/>
<line x1="355.8" x2="355.8" y1="192.22" y2="147.94" stroke="#b8e3f5" stroke-width="1.55"/>
<line x1="359.0" x2="359.0" y1="236.50" y2="192.22" stroke="#f39cc3" stroke-width="1.55"/>
<line x1="364.9" x2="364.9" y1="236.50" y2="192.22" stroke="#6aa2de" stroke-width="1.55"/>
<line x1="364.9" x2="364.9" y1="192.22" y2="147.94" stroke="#b0e0f3" stroke-width="1.55"/>
<line x1="382.6" x2="382.6" y1="236.50" y2="192.22" stroke="#eaa2cc" stroke-width="1.55"/>
<line x1="382.6" x2="382.6" y1="192.22" y2="147.94" stroke="#b4acdb" stroke-width="1.55"/>
<line x1="382.6" x2="382.6" y1="147.94" y2="103.66" stroke="#5cc8de" stroke-width="1.55"/>
<line x1="382.6" x2="382.6" y1="103.66" y2="59.38" stroke="#7cc874" stroke-width="1.55"/>
<line x1="408.1" x2="408.1" y1="236.50" y2="192.22" stroke="#eda050" stroke-width="1.55"/>
<line x1="416.4" x2="416.4" y1="236.50" y2="192.22" stroke="#d4b040" stroke-width="1.55"/>
<line x1="432.2" x2="432.2" y1="236.50" y2="192.22" stroke="#f08880" stroke-width="1.55"/>
<line x1="477.6" x2="477.6" y1="236.50" y2="192.22" stroke="#eda860" stroke-width="1.55"/>
<path d="M291.6 30.3 V246.4 H487.7" fill="none" stroke="#222" stroke-width="1.2"/>
<rect x="257.2" y="283.30" width="5.8" height="5.4" fill="#d97a72"/>
<text x="265.33" y="288.60" font-size="7.8" textLength="36.38" lengthAdjust="spacingAndGlyphs" fill="#222">F8INH03&#8211;A</text>
<rect x="257.2" y="298.20" width="5.8" height="5.4" fill="#e0962f"/>
<text x="265.33" y="303.50" font-size="7.8" textLength="15.92" lengthAdjust="spacingAndGlyphs" fill="#222">F801</text>
<rect x="310.6" y="283.30" width="5.8" height="5.4" fill="#c9a033"/>
<text x="317.52" y="288.60" font-size="7.8" textLength="16.03" lengthAdjust="spacingAndGlyphs" fill="#222">F802</text>
<rect x="310.6" y="298.20" width="5.8" height="5.4" fill="#a5b84a"/>
<text x="317.52" y="303.50" font-size="7.8" textLength="15.99" lengthAdjust="spacingAndGlyphs" fill="#222">F803</text>
<rect x="339.0" y="283.30" width="5.8" height="5.4" fill="#52a852"/>
<text x="347.11" y="288.60" font-size="7.8" textLength="21.27" lengthAdjust="spacingAndGlyphs" fill="#222">D1030</text>
<rect x="339.0" y="298.20" width="5.8" height="5.4" fill="#1aa36a"/>
<text x="347.05" y="303.50" font-size="7.8" textLength="21.54" lengthAdjust="spacingAndGlyphs" fill="#222">D1111</text>
<rect x="374.0" y="283.30" width="5.8" height="5.4" fill="#1c9c8c"/>
<text x="382.57" y="288.60" font-size="7.8" textLength="21.41" lengthAdjust="spacingAndGlyphs" fill="#222">D1112</text>
<rect x="374.0" y="298.20" width="5.8" height="5.4" fill="#1ea8c8"/>
<text x="382.58" y="303.50" font-size="7.8" textLength="21.86" lengthAdjust="spacingAndGlyphs" fill="#222">D1123</text>
<rect x="409.3" y="283.30" width="5.8" height="5.4" fill="#1f9fd6"/>
<text x="417.67" y="288.60" font-size="7.8" textLength="21.91" lengthAdjust="spacingAndGlyphs" fill="#222">D1127</text>
<rect x="409.3" y="298.20" width="5.8" height="5.4" fill="#8c8cc2"/>
<text x="417.66" y="303.50" font-size="7.8" textLength="22.27" lengthAdjust="spacingAndGlyphs" fill="#222">D1128</text>
<rect x="444.5" y="283.30" width="5.8" height="5.4" fill="#b27fb5"/>
<text x="452.30" y="288.60" font-size="7.8" textLength="20.96" lengthAdjust="spacingAndGlyphs" fill="#222">D1131</text>
<rect x="444.5" y="298.20" width="5.8" height="5.4" fill="#d0789f"/>
<text x="452.28" y="303.50" font-size="7.8" textLength="21.89" lengthAdjust="spacingAndGlyphs" fill="#222">D1179</text>
<rect x="479.1" y="283.30" width="5.8" height="5.4" fill="#d26b8f"/>
<text x="487.99" y="288.60" font-size="7.8" textLength="21.22" lengthAdjust="spacingAndGlyphs" fill="#222">D1184</text>
</svg>
</body></html>
